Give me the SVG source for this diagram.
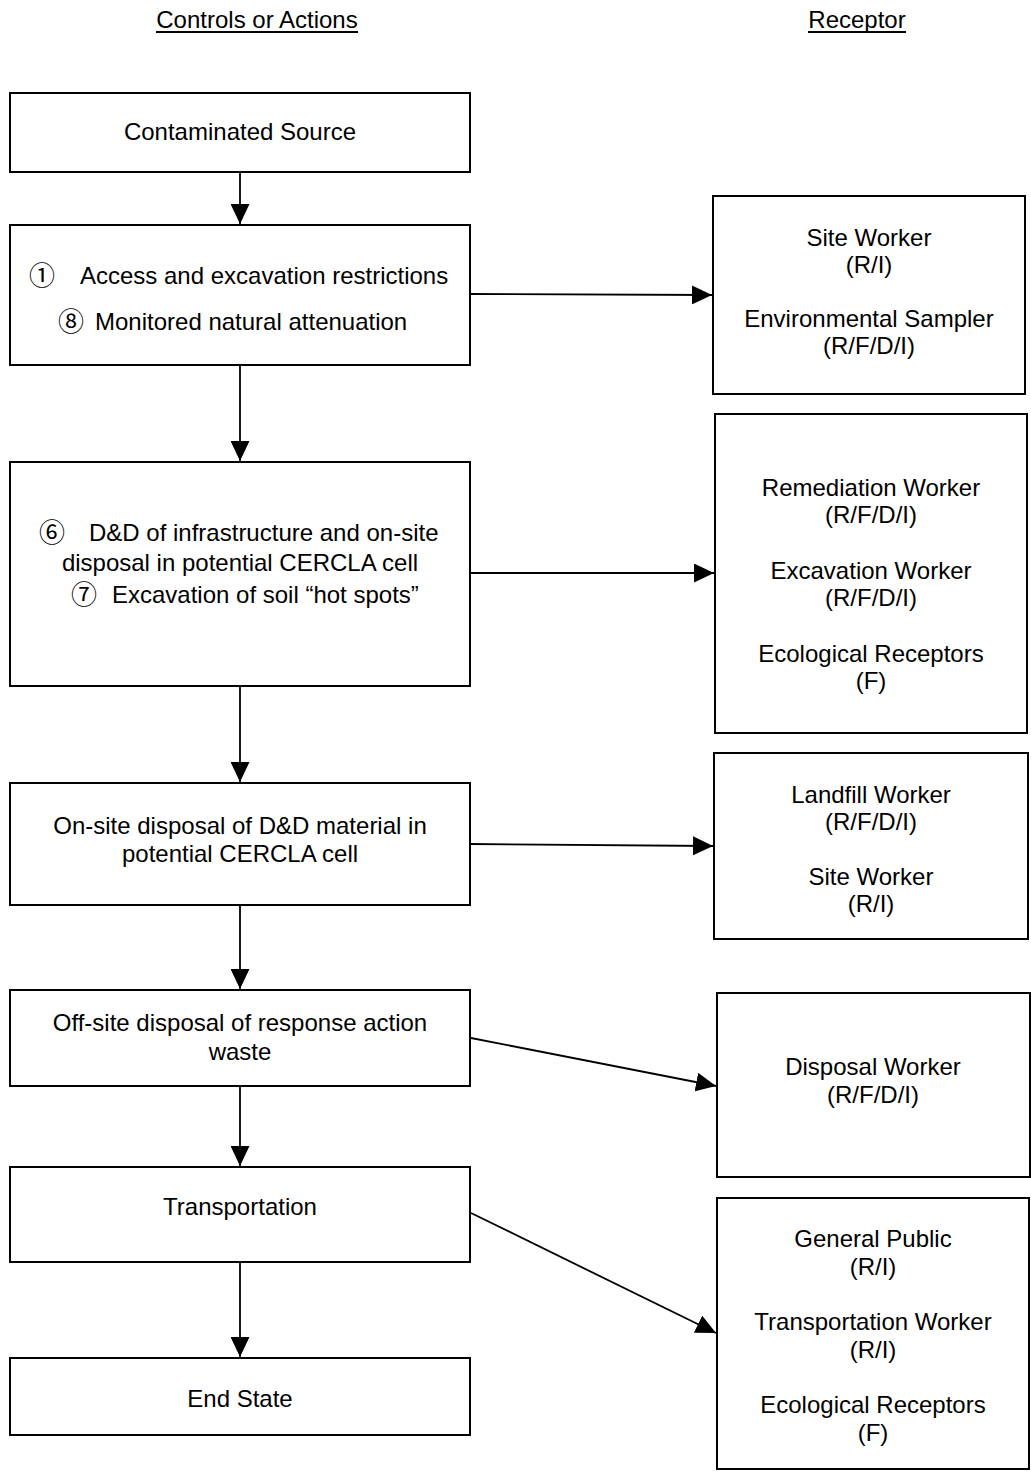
<svg xmlns="http://www.w3.org/2000/svg" width="1031" height="1475" viewBox="0 0 1031 1475">
<style>
.box{fill:#fff;stroke:#000;stroke-width:2}
.t{font-family:"Liberation Sans",Arial,sans-serif;font-size:24px;fill:#000}
.c{text-anchor:middle}
.n{font-family:"Noto Sans CJK JP","DejaVu Sans",sans-serif;font-size:26px;fill:#000}
.ln{stroke:#000;stroke-width:1.8;fill:none}
</style>
<defs>
<marker id="ah" markerUnits="userSpaceOnUse" markerWidth="20" markerHeight="19" refX="20" refY="9.5" orient="auto">
<path d="M0,0 L20,9.5 L0,19 z" fill="#000"/>
</marker>
</defs>
<g id="headers">
<text class="t c" x="257" y="28">Controls or Actions</text>
<line x1="156" y1="32" x2="358" y2="32" stroke="#000" stroke-width="2"/>
<text class="t c" x="857" y="28">Receptor</text>
<line x1="808" y1="32" x2="906" y2="32" stroke="#000" stroke-width="2"/>
</g>
<g id="connectors">
<line class="ln" x1="240" y1="172" x2="240" y2="224" marker-end="url(#ah)"/>
<line class="ln" x1="240" y1="365" x2="240" y2="461" marker-end="url(#ah)"/>
<line class="ln" x1="240" y1="686" x2="240" y2="782" marker-end="url(#ah)"/>
<line class="ln" x1="240" y1="905" x2="240" y2="989" marker-end="url(#ah)"/>
<line class="ln" x1="240" y1="1086" x2="240" y2="1166" marker-end="url(#ah)"/>
<line class="ln" x1="240" y1="1262" x2="240" y2="1357" marker-end="url(#ah)"/>
<line class="ln" x1="470" y1="294" x2="712" y2="295" marker-end="url(#ah)"/>
<line class="ln" x1="470" y1="573" x2="714" y2="573" marker-end="url(#ah)"/>
<line class="ln" x1="470" y1="844" x2="713" y2="846" marker-end="url(#ah)"/>
<line class="ln" x1="471" y1="1038" x2="716" y2="1086" marker-end="url(#ah)"/>
<line class="ln" x1="471" y1="1213" x2="716" y2="1333" marker-end="url(#ah)"/>
</g>
<g id="contaminated-source">
<rect class="box" x="10" y="93" width="460" height="79"/>
<text class="t c" x="240" y="140">Contaminated Source</text>
</g>
<g id="access-restrictions">
<rect class="box" x="10" y="225" width="460" height="140"/>
<text class="n" x="29" y="285">①</text>
<text class="t" x="80" y="284">Access and excavation restrictions</text>
<text class="n" x="58" y="331">⑧</text>
<text class="t" x="95" y="330">Monitored natural attenuation</text>
</g>
<g id="dd-infrastructure">
<rect class="box" x="10" y="462" width="460" height="224"/>
<text class="n" x="39" y="542">⑥</text>
<text class="t" x="89" y="541">D&amp;D of infrastructure and on-site</text>
<text class="t c" x="240" y="571">disposal in potential CERCLA cell</text>
<text class="n" x="71" y="604">⑦</text>
<text class="t" x="112" y="603">Excavation of soil “hot spots”</text>
</g>
<g id="onsite-disposal">
<rect class="box" x="10" y="783" width="460" height="122"/>
<text class="t c" x="240" y="834">On-site disposal of D&amp;D material in</text>
<text class="t c" x="240" y="862">potential CERCLA cell</text>
</g>
<g id="offsite-disposal">
<rect class="box" x="10" y="990" width="460" height="96"/>
<text class="t c" x="240" y="1031">Off-site disposal of response action</text>
<text class="t c" x="240" y="1060">waste</text>
</g>
<g id="transportation">
<rect class="box" x="10" y="1167" width="460" height="95"/>
<text class="t c" x="240" y="1215">Transportation</text>
</g>
<g id="end-state">
<rect class="box" x="10" y="1358" width="460" height="77"/>
<text class="t c" x="240" y="1407">End State</text>
</g>
<g id="site-worker-sampler">
<rect class="box" x="713" y="196" width="312" height="198"/>
<text class="t c" x="869" y="246">Site Worker</text>
<text class="t c" x="869" y="273">(R/I)</text>
<text class="t c" x="869" y="327">Environmental Sampler</text>
<text class="t c" x="869" y="354">(R/F/D/I)</text>
</g>
<g id="remediation-receptors">
<rect class="box" x="715" y="414" width="312" height="319"/>
<text class="t c" x="871" y="496">Remediation Worker</text>
<text class="t c" x="871" y="523">(R/F/D/I)</text>
<text class="t c" x="871" y="579">Excavation Worker</text>
<text class="t c" x="871" y="606">(R/F/D/I)</text>
<text class="t c" x="871" y="662">Ecological Receptors</text>
<text class="t c" x="871" y="689">(F)</text>
</g>
<g id="landfill-receptors">
<rect class="box" x="714" y="753" width="314" height="186"/>
<text class="t c" x="871" y="803">Landfill Worker</text>
<text class="t c" x="871" y="830">(R/F/D/I)</text>
<text class="t c" x="871" y="885">Site Worker</text>
<text class="t c" x="871" y="912">(R/I)</text>
</g>
<g id="disposal-worker">
<rect class="box" x="717" y="993" width="313" height="184"/>
<text class="t c" x="873" y="1075">Disposal Worker</text>
<text class="t c" x="873" y="1103">(R/F/D/I)</text>
</g>
<g id="transport-receptors">
<rect class="box" x="717" y="1198" width="312" height="271"/>
<text class="t c" x="873" y="1247">General Public</text>
<text class="t c" x="873" y="1275">(R/I)</text>
<text class="t c" x="873" y="1330">Transportation Worker</text>
<text class="t c" x="873" y="1358">(R/I)</text>
<text class="t c" x="873" y="1413">Ecological Receptors</text>
<text class="t c" x="873" y="1441">(F)</text>
</g>
</svg>
